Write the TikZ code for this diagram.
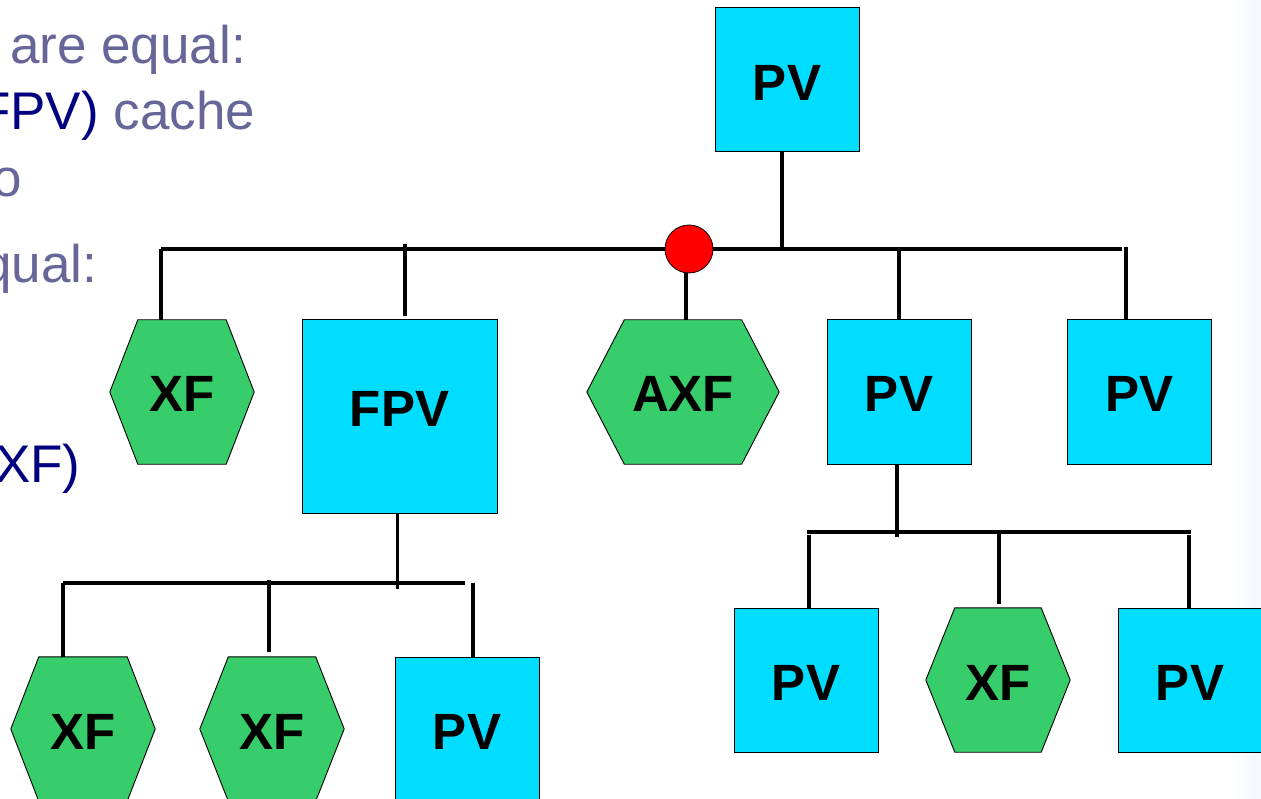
\documentclass[tikz,border=0pt]{standalone}
\usepackage{fontspec}
\setmainfont{Liberation Sans}
\usetikzlibrary{calc}
\definecolor{pvcyan}{RGB}{0,221,255}
\definecolor{xfgreen}{RGB}{54,205,106}
\definecolor{slidegray}{RGB}{102,102,153}
\definecolor{slidenavy}{RGB}{0,0,128}
\definecolor{edgetint}{RGB}{244,248,252}
\pgfdeclarelayer{bg}
\pgfsetlayers{bg,main}
\newcommand{\hexoutline}[2]{%
  \filldraw[hexline] ($(#1.north west)+(#2,0)$) -- ($(#1.north east)+(-#2,0)$) -- (#1.east)
    -- ($(#1.south east)+(-#2,0)$) -- ($(#1.south west)+(#2,0)$) -- (#1.west) -- cycle;}
\begin{document}
\begin{tikzpicture}[x=1pt,y=-1pt,
  lbl/.style={font=\fontsize{51}{51}\selectfont\bfseries, text=black, text height=40pt},
  pvbox/.style={lbl, draw=black, line width=1pt, fill=pvcyan, inner sep=0pt,
                minimum width=144pt, minimum height=144pt},
  xfhex/.style={lbl, inner sep=0pt, minimum width=144pt, minimum height=144pt},
  hexline/.style={draw=black, line width=0.9pt, fill=xfgreen},
  conn/.style={line width=3.8pt, draw=black},
  slidetext/.style={anchor=base west, inner sep=0pt, font=\fontsize{53}{53}\selectfont, text=slidegray}]
\path[use as bounding box] (0,0) rectangle (1261,799);
\begin{pgfonlayer}{bg}
  \fill[white] (0,0) rectangle (1261,799);
  \shade[left color=white, right color=edgetint] (1230,0) rectangle (1261,799);
\end{pgfonlayer}

% slide text (cut off at the left)
\node[slidetext] (t1) at (10,64) {are equal:};
\node[slidetext] (t2) at (-22,130) {\textcolor{slidenavy}{FPV)} cache};
\node[slidetext] (t3) at (-8,197) {o};
\node[slidetext] (t4) at (-18,283) {qual:};
\node[slidetext, text=slidenavy] (t5) at (-5,482) {XF)};

% nodes
\node[pvbox, text height=42pt] (pv0) at (787,80) {PV};
\node[xfhex] (xf1) at (182,392) {XF};
\node[pvbox, minimum width=195pt, minimum height=193pt, text height=36.5pt, text depth=16pt] (fpv) at (399.5,416.5) {FPV};
\node[xfhex, minimum width=192pt] (axf) at (683,392) {AXF};
\node[pvbox] (pv1) at (899,392) {PV};
\node[pvbox] (pv2) at (1139.5,392) {PV};
\node[pvbox] (pv3) at (806,680) {PV};
\node[xfhex] (xf2) at (998,680) {XF};
\node[pvbox] (pv4) at (1190,680) {PV};
\node[xfhex] (xf3) at (83,729) {XF};
\node[xfhex] (xf4) at (272,729) {XF};
\node[pvbox] (pv5) at (467,729) {PV};

\begin{pgfonlayer}{bg}
  \hexoutline{xf1}{28}
  \hexoutline{axf}{37.5}
  \hexoutline{xf2}{29}
  \hexoutline{xf3}{28}
  \hexoutline{xf4}{28.5}
\end{pgfonlayer}

% top bus
\coordinate (busL) at (161,249);
\coordinate (busR) at (1122,249);
\draw[conn] (busL) -- (busR);
\draw[conn] ([xshift=-5pt]pv0.south) -- ([xshift=-5pt]pv0.south |- busL);
\draw[conn] (busL) -- (busL |- xf1.north);
\draw[conn] (405,244) coordinate (fpvtop) -- (fpvtop |- 0,316);
\node[circle, draw=black, line width=0.8pt, fill=red, minimum size=48pt, inner sep=0pt] (dot) at (689,249) {};
\draw[conn] ([xshift=-3pt]dot.south) -- ([xshift=-3pt]dot.south |- axf.north);
\draw[conn] (pv1.north) -- (pv1.north |- busL);
\draw[conn] ([xshift=-13.5pt]pv2.north) -- ([xshift=-13.5pt]pv2.north |- 0,247);

% right lower bus
\coordinate (rbL) at (807,532);
\coordinate (rbR) at (1191,532);
\draw[conn] (rbL) -- (rbR);
\draw[conn] ([xshift=-2pt]pv1.south) -- ([xshift=-2pt]pv1.south |- 0,537);
\draw[conn] ([xshift=3pt]pv3.north) -- ([xshift=3pt]pv3.north |- 0,535);
\draw[conn] (999,532) coordinate (xf2top) -- (xf2top |- 0,604);
\draw[conn] ([xshift=-1pt]pv4.north) -- ([xshift=-1pt]pv4.north |- 0,535);

% left lower bus
\coordinate (lbL) at (63,583);
\coordinate (lbR) at (465,583);
\draw[conn] (lbL) -- (lbR);
\draw[conn] ([xshift=-2pt]fpv.south) -- ([xshift=-2pt]fpv.south |- 0,589);
\draw[conn] (lbL) -- (lbL |- xf3.north);
\draw[conn] (269,580) coordinate (xf4top) -- (xf4top |- 0,652);
\draw[conn] ([xshift=6pt]pv5.north) -- ([xshift=6pt]pv5.north |- 0,583);
\end{tikzpicture}
\end{document}
